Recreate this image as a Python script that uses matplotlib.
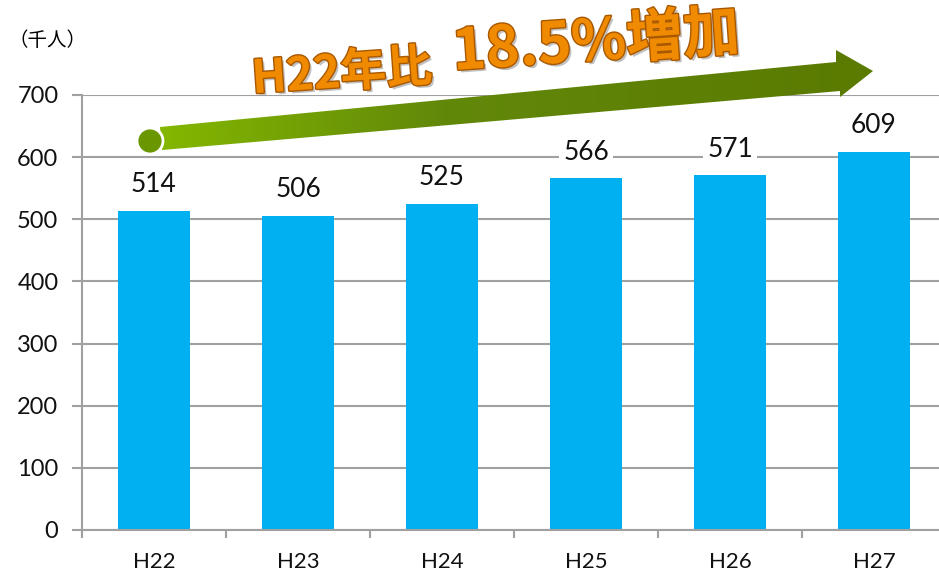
import matplotlib
matplotlib.use("Agg")
import matplotlib.pyplot as plt
import matplotlib.patheffects as pe
from matplotlib.patches import Polygon, Circle
from matplotlib.colors import LinearSegmentedColormap
import numpy as np

categories = ["H22", "H23", "H24", "H25", "H26", "H27"]
values = [514, 506, 525, 566, 571, 609]
yticks = [0, 100, 200, 300, 400, 500, 600, 700]
unit_label = "（千人）"
title_small = "H22年比"
title_big = "18.5%増加"

W, H = 939, 580
fig = plt.figure(figsize=(W / 100, H / 100), dpi=100)
ax = fig.add_axes([82 / W, 50 / H, 864 / W, 435 / H])

grey = "#a0a0a0"
num_font = dict(family="Lato", fontweight="normal", color="#111111")
x = np.arange(len(categories))
ax.bar(x, values, width=0.5, color="#00b0f0", zorder=2)
ax.set_xlim(-0.5, len(categories) - 0.5)
ax.set_ylim(0, 700)
ax.set_yticks(yticks)
ax.set_yticklabels([str(t) for t in yticks], fontsize=17, **num_font)
ax.yaxis.grid(True, color=grey, linewidth=1.5, zorder=0)
ax.set_axisbelow(True)
ax.tick_params(axis="y", length=7, width=1.5, color=grey, pad=10)

ax.set_xticks(np.arange(-0.5, len(categories) - 0.4, 1.0))
ax.set_xticklabels([])
ax.set_xticks(x, minor=True)
ax.set_xticklabels(categories, minor=True, fontsize=16, **num_font)
ax.tick_params(axis="x", which="major", length=6, width=1.5, color=grey, direction="out")
ax.tick_params(axis="x", which="minor", length=0, pad=16)

for s in ["top", "right"]:
    ax.spines[s].set_visible(False)
for s in ["left", "bottom"]:
    ax.spines[s].set_color(grey)
    ax.spines[s].set_linewidth(1.5)

for xi, v in zip(x, values):
    ax.text(xi, v + 42, str(v), ha="center", va="center", fontsize=19, **num_font,
            bbox=dict(facecolor="white", edgecolor="none", pad=3), zorder=3)

# overlay in pixel coordinates (y down)
ov = fig.add_axes([0, 0, 1, 1], zorder=5)
ov.set_xlim(0, W)
ov.set_ylim(H, 0)
ov.axis("off")
ov.patch.set_alpha(0)

ov.text(8, 41, unit_label, fontsize=14, family=["Noto Sans CJK JP", "DejaVu Sans"],
        ha="left", va="center")

pts = [(160, 127), (836, 62), (836, 50), (873, 71), (840, 97), (840, 91), (162, 150)]
poly = Polygon(pts, closed=True, facecolor="none", edgecolor="none")
ov.add_patch(poly)
cmap = LinearSegmentedColormap.from_list("g", [(0, "#84b800"), (0.4, "#62880a"), (1, "#5a7a00")])
grad = np.linspace(0, 1, 256).reshape(1, -1)
im = ov.imshow(grad, cmap=cmap, extent=[155, 875, 155, 45], aspect="auto", zorder=2)
im.set_clip_path(poly)
ov.set_xlim(0, W)
ov.set_ylim(H, 0)
ov.add_patch(Circle((150, 141), 13, facecolor="#6a9600", edgecolor="white", linewidth=2, zorder=3))

fx = [pe.SimplePatchShadow(offset=(2, -2), shadow_rgbFace="#999999", alpha=0.6),
      pe.withStroke(linewidth=2, foreground="#a85800")]
ov.text(342, 74, title_small, fontsize=33, fontweight="bold", color="#f08a00",
        family=["Noto Sans CJK JP", "DejaVu Sans"], rotation=4, rotation_mode="anchor",
        ha="center", va="center", path_effects=fx, zorder=4)
ov.text(596, 43, title_big, fontsize=41, fontweight="bold", color="#f08a00",
        family=["Noto Sans CJK JP", "DejaVu Sans"], rotation=4, rotation_mode="anchor",
        ha="center", va="center", path_effects=fx, zorder=4)

fig.savefig("out.png", dpi=100)
